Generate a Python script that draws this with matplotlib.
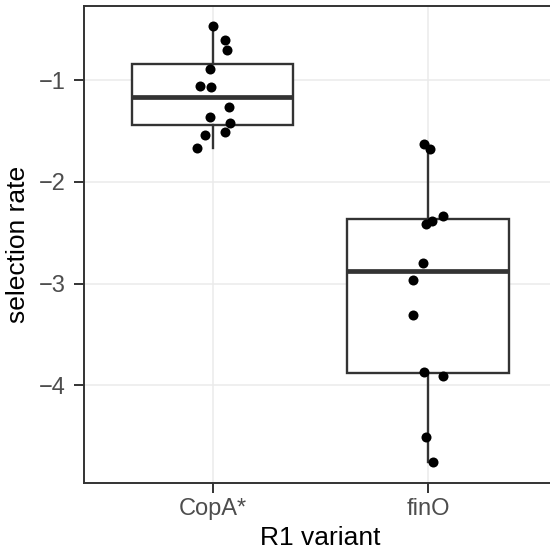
import matplotlib
matplotlib.use("Agg")
import matplotlib.pyplot as plt

plt.rcParams['font.family'] = ['Liberation Sans', 'DejaVu Sans']

# R1 variants and their selection rates
variants = ["CopA*", "finO"]
copa_rates = [-0.472, -0.610, -0.708, -0.892, -1.056, -1.069,
              -1.262, -1.360, -1.422, -1.508, -1.540, -1.665]
fino_rates = [-1.629, -1.678, -2.333, -2.382, -2.418, -2.795,
              -2.965, -3.308, -3.872, -3.908, -4.507, -4.752]
# horizontal jitter of each point, as seen in the picture
copa_jitter = [0.002, 0.059, 0.067, -0.014, -0.059, -0.006,
               0.077, -0.014, 0.079, 0.056, -0.036, -0.073]
fino_jitter = [-0.020, 0.012, 0.070, 0.020, -0.007, -0.021,
               -0.071, -0.068, -0.019, 0.070, -0.011, 0.025]

rates = [copa_rates, fino_rates]
jitters = [copa_jitter, fino_jitter]

dark = '#333333'

fig = plt.figure(figsize=(5.5, 5.54), dpi=100)
ax = fig.add_axes([83.7 / 550, 71.3 / 554, (557 - 83.7) / 550, 477 / 554])

# Boxes
box_kw = dict(color=dark, linewidth=1.7)
ax.boxplot(rates, positions=[0, 1], widths=0.75, whis=1.5,
           showfliers=False, showcaps=False, patch_artist=True,
           boxprops=dict(facecolor='white', edgecolor=dark, linewidth=1.7),
           whiskerprops=box_kw,
           medianprops=dict(color=dark, linewidth=3.4, solid_capstyle='butt'),
           zorder=2)

# Jittered points
for i, (vals, jit) in enumerate(zip(rates, jitters)):
    xs = [i + j for j in jit]
    ax.scatter(xs, vals, s=52, color='black', zorder=3, linewidths=0)

ax.set_xlim(-0.6, 1.6)
ax.set_ylim(-4.956, -0.27)
ax.set_xticks([0, 1])
ax.set_xticklabels(variants)
ax.set_yticks([-1, -2, -3, -4])

# theme_bw look
ax.grid(True, color='#EBEBEB', linewidth=1.1, zorder=0)
ax.set_axisbelow(True)
for sp in ax.spines.values():
    sp.set_color(dark)
    sp.set_linewidth(1.4)
ax.tick_params(axis='both', colors=dark, width=1.4, length=7,
               labelcolor='#4D4D4D', labelsize=17)
ax.tick_params(axis='y', pad=6)
ax.tick_params(axis='x', pad=4)

ax.set_xlabel("R1 variant", fontsize=19, labelpad=4)
ax.set_ylabel("selection rate", fontsize=19, labelpad=6)

fig.savefig("out.png", dpi=100)
